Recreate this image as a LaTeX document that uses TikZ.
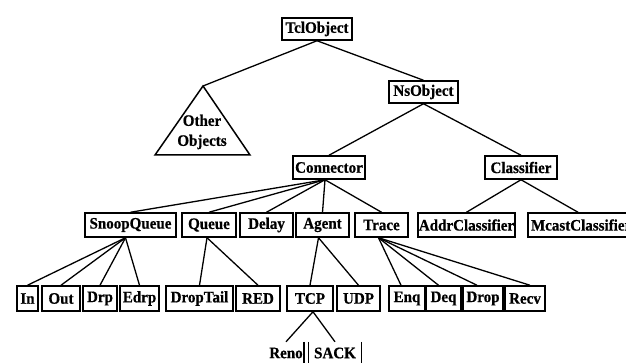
\documentclass[tikz,border=0pt]{standalone}
\usepackage{fontspec}
\newfontfamily\dfont[FakeStretch=0.94,FakeBold=0.6]{Liberation Serif}
\usetikzlibrary{calc}
\begin{document}
\begin{tikzpicture}[x=1pt,y=-1pt,
  box/.style={draw,line width=1.5pt,inner sep=0pt,minimum height=23pt,font=\dfont\bfseries\fontsize{16}{16}\selectfont},
  bare/.style={inner sep=0pt,minimum height=22pt,font=\dfont\bfseries\fontsize{16}{16}\selectfont},
  edge/.style={line width=1.3pt}]
\useasboundingbox (0,0) rectangle (626,363);
\clip (0,0) rectangle (626,363);
\fill[white] (0,0) rectangle (626,363);
% level 0
\node[box,minimum width=70pt,minimum height=22pt] (tcl) at (317,29) {TclObject};
% other objects triangle
\coordinate (apex) at (203,86);
\coordinate (bl) at (155,155);
\coordinate (br) at (250,155);
\draw[line width=1.5pt,line join=miter] (apex) -- (bl) -- (br) -- cycle;
\node[bare,align=center,font=\dfont\bfseries\fontsize{16}{20}\selectfont] (oth) at (202,132) {Other\\Objects};
\node[box,minimum width=69pt,minimum height=22pt] (ns) at (423.5,92) {NsObject};
% level 2
\node[box,minimum width=72pt] (con) at (329,167.5) {Connector};
\node[box,minimum width=72pt] (cls) at (521,167.5) {Classifier};
% level 3
\node[box,minimum width=91pt,minimum height=24pt] (snq) at (130.5,225) {SnoopQueue};
\node[box,minimum width=54pt,minimum height=24pt] (que) at (209,225) {Queue};
\node[box,minimum width=53pt,minimum height=24pt] (del) at (266.5,225) {Delay};
\node[box,minimum width=53pt,minimum height=24pt] (agt) at (322.5,225) {Agent};
\node[box,minimum width=53pt,minimum height=24pt] (trc) at (381.5,225) {Trace};
\node[box,minimum width=97pt,minimum height=24pt] (acl) at (466.5,225) {AddrClassifier};
\node[box,minimum width=112pt,minimum height=24pt,text width=106pt,align=left] (mcl) at (584,225) {McastClassifier};
% level 4
\node[box,minimum width=21pt,minimum height=25pt] (in) at (27.5,298.5) {In};
\node[box,minimum width=38pt,minimum height=25pt] (out) at (61,298.5) {Out};
\node[box,minimum width=34pt,minimum height=25pt] (drp) at (100,298.5) {Drp};
\node[box,minimum width=39pt,minimum height=25pt] (edrp) at (139.5,298.5) {Edrp};
\node[box,minimum width=67pt,minimum height=25pt] (dt) at (199.5,298.5) {DropTail};
\node[box,minimum width=44pt,minimum height=25pt] (red) at (258,298.5) {RED};
\node[box,minimum width=46pt,minimum height=25pt] (tcp) at (310,298.5) {TCP};
\node[box,minimum width=43pt,minimum height=25pt] (udp) at (358.5,298.5) {UDP};
\node[box,minimum width=36pt,minimum height=25pt] (enq) at (407,298.5) {Enq};
\node[box,minimum width=35pt,minimum height=25pt] (deq) at (443.5,298.5) {Deq};
\node[box,minimum width=40pt,minimum height=25pt] (drop) at (483,298.5) {Drop};
\node[box,minimum width=40pt,minimum height=25pt] (recv) at (525,298.5) {Recv};
% level 5
\node[bare,minimum width=36pt] (reno) at (286,353) {Reno};
\node[bare,minimum width=53pt] (sack) at (335,353) {SACK};
\draw[line width=1.5pt] (reno.north east) -- (reno.south east);
\draw[line width=1.5pt] (sack.north west) -- (sack.south west);
\draw[line width=1.5pt] (sack.north east) -- (sack.south east);
% edges
\draw[edge] (tcl.south) -- (apex);
\draw[edge] (tcl.south) -- (ns.north);
\draw[edge] (ns.south) -- (con.north);
\draw[edge] (ns.south) -- (cls.north);
\foreach \c in {snq,que,del,agt,trc} \draw[edge] ($(con.south)+(-4,0)$) -- (\c.north);
\draw[edge] (cls.south) -- (acl.north);
\draw[edge] (cls.south) -- ($(mcl.north)+(-6,0)$);
\foreach \c in {in,out,drp,edrp} \draw[edge] ($(snq.south)+(-5,0)$) -- (\c.north);
\foreach \c in {dt,red} \draw[edge] ($(que.south)+(-2,0)$) -- (\c.north);
\foreach \c in {tcp,udp} \draw[edge] ($(agt.south)+(-4,0)$) -- (\c.north);
\draw[edge] ($(trc.south)+(-3,0)$) -- ($(enq.north)+(-6,0)$);
\draw[edge] ($(trc.south)+(-3,0)$) -- ($(deq.north)+(-5,0)$);
\draw[edge] ($(trc.south)+(-3,0)$) -- ($(drop.north)+(-6,0)$);
\draw[edge] ($(trc.south)+(-3,0)$) -- ($(recv.north)+(5,0)$);
\draw[edge] ($(tcp.south)+(3,0)$) -- (reno.north);
\draw[edge] ($(tcp.south)+(3,0)$) -- (sack.north);
\end{tikzpicture}
\end{document}
